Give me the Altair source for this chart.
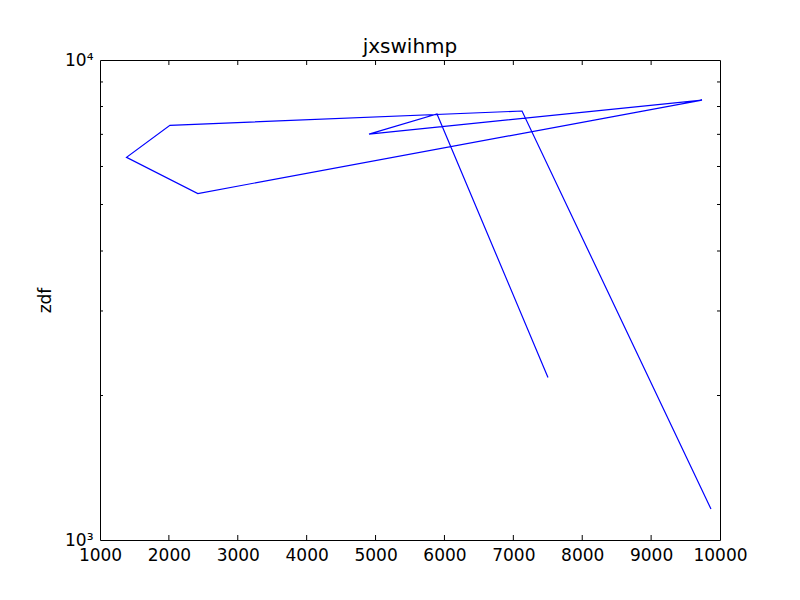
import pandas as pd
import altair as alt

# Values (in drawing order)
x_vals = [7503, 5892, 4905, 9739, 2420, 1385, 2015, 7126, 9869]
y_vals = [2180, 7720, 7010, 8250, 5270, 6270, 7310, 7830, 1160]

x_ticks = [1000, 2000, 3000, 4000, 5000, 6000, 7000, 8000, 9000, 10000]
y_minor = [2000, 3000, 4000, 5000, 6000, 7000, 8000, 9000]

W, H = 620, 480
FONT = 'DejaVu Sans'

line_df = pd.DataFrame({'x': x_vals, 'y': y_vals, 'i': range(len(x_vals))})
xt_df = pd.DataFrame({'x': x_ticks[1:-1]})
yt_df = pd.DataFrame({'y': y_minor})

x_scale = alt.Scale(domain=[1000, 10000], nice=False, zero=False)
y_scale = alt.Scale(type='log', domain=[1000, 10000], nice=False)

line = alt.Chart(line_df).mark_line(color='#0000ff', strokeWidth=1.2).encode(
    x=alt.X('x:Q', scale=x_scale,
            axis=alt.Axis(values=x_ticks, format='d', title=None, tickSize=0,
                          domain=False, grid=False, labelFlush=False,
                          labelOverlap=False, labelPadding=7, labelFontSize=17,
                          labelFont=FONT, labelColor='black')),
    y=alt.Y('y:Q', scale=y_scale,
            axis=alt.Axis(values=[1000, 10000], title='zdf', tickSize=0,
                          domain=False, grid=False, labelFlush=False,
                          labelOverlap=False, labelPadding=7, labelFontSize=17,
                          labelFont=FONT, labelColor='black',
                          labelExpr="datum.value >= 10000 ? '10⁴' : '10³'",
                          titleFont=FONT, titleFontSize=17, titleFontWeight='normal',
                          titleColor='black', titlePadding=10)),
    order='i:Q'
)

# inward ticks, matplotlib classic style
xb = alt.Chart(xt_df).mark_rule(color='black').encode(
    x=alt.X('x:Q', scale=x_scale), y=alt.value(H), y2=alt.value(H - 5))
xtp = alt.Chart(xt_df).mark_rule(color='black').encode(
    x=alt.X('x:Q', scale=x_scale), y=alt.value(0), y2=alt.value(5))
yl = alt.Chart(yt_df).mark_rule(color='black').encode(
    y=alt.Y('y:Q', scale=y_scale), x=alt.value(0), x2=alt.value(3))
yr = alt.Chart(yt_df).mark_rule(color='black').encode(
    y=alt.Y('y:Q', scale=y_scale), x=alt.value(W), x2=alt.value(W - 3))

chart = alt.layer(line, xb, xtp, yl, yr).properties(
    width=W,
    height=H,
    title=alt.TitleParams('jxswihmp', font=FONT, fontSize=20, fontWeight='normal',
                          color='black', offset=-6, frame='group'),
    autosize=alt.AutoSizeParams(type='none'),
    padding={'left': 92, 'top': 52, 'right': 72, 'bottom': 52}
).configure_view(
    stroke='black', strokeWidth=1
)

chart.save("out.html", embed_options={"renderer": "svg", "actions": False})
